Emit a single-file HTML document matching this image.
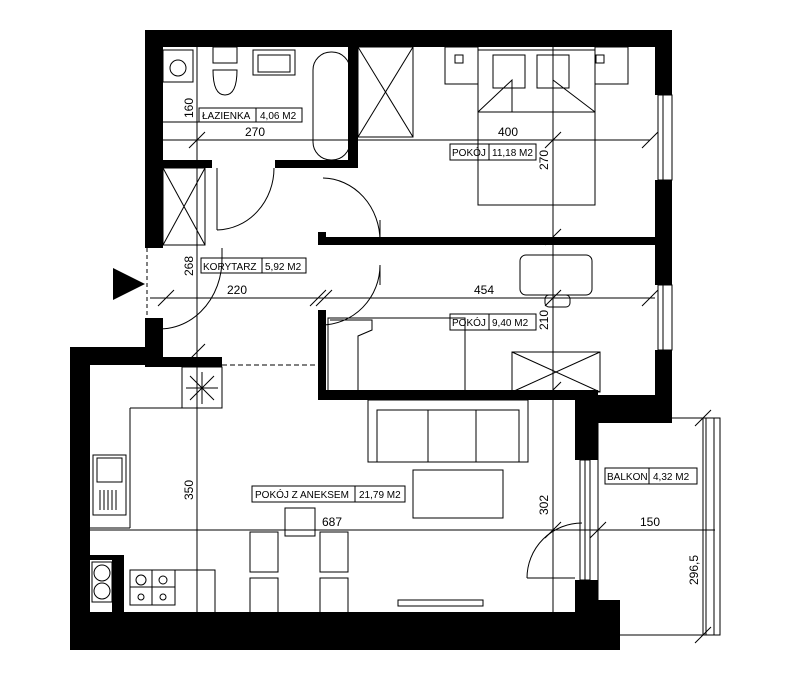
<!DOCTYPE html>
<html><head><meta charset="utf-8"><style>
html,body{margin:0;padding:0;background:#fff}
svg{display:block}
text{font-family:"Liberation Sans",sans-serif;fill:#000}
</style></head><body>
<svg width="805" height="687" viewBox="0 0 805 687" xmlns="http://www.w3.org/2000/svg">
<rect width="805" height="687" fill="#fff"/>
<g fill="#000">
<rect x="145" y="30" width="527" height="17"/>
<rect x="655" y="30" width="17" height="65"/>
<rect x="655" y="180" width="17" height="105"/>
<rect x="655" y="350" width="17" height="68"/>
<rect x="145" y="30" width="18" height="218"/>
<rect x="145" y="318" width="18" height="47"/>
<rect x="70" y="347" width="93" height="18"/>
<rect x="145" y="357" width="77" height="10"/>
<rect x="70" y="347" width="20" height="303"/>
<rect x="70" y="612" width="530" height="38"/>
<rect x="575" y="600" width="45" height="50"/>
<rect x="575" y="395" width="23" height="65"/>
<rect x="575" y="580" width="23" height="32"/>
<rect x="575" y="395" width="97" height="28"/>
<rect x="318" y="390" width="280" height="10"/>
<rect x="163" y="160" width="49" height="8"/>
<rect x="275" y="160" width="83" height="8"/>
<rect x="348" y="47" width="10" height="121"/>
<rect x="318" y="237" width="337" height="8"/>
<rect x="318" y="310" width="8" height="88"/>
<rect x="318" y="232" width="8" height="6"/>
<rect x="90" y="555" width="34" height="5"/>
<rect x="112" y="555" width="12" height="57"/>
</g>
<g fill="none" stroke="#000" stroke-width="1">
<rect x="658" y="95" width="14" height="85"/><line x1="663" y1="95" x2="663" y2="180"/>
<rect x="658" y="285" width="14" height="65"/><line x1="663" y1="285" x2="663" y2="350"/>
<rect x="580" y="460" width="10" height="120"/><line x1="585" y1="460" x2="585" y2="580"/>
<line x1="147" y1="248" x2="147" y2="318" stroke-dasharray="4,3"/>
<line x1="222" y1="365" x2="318" y2="365" stroke-dasharray="5,3"/>
<path d="M217,230 A58,62 0 0 0 274,168"/><line x1="217" y1="168" x2="217" y2="230"/>
<path d="M323,178 A58,63 0 0 1 380,241"/><line x1="380" y1="220" x2="380" y2="241"/>
<path d="M380,265 A59,60 0 0 1 321,325"/><line x1="380" y1="265" x2="380" y2="285"/>
<path d="M222,257 A62,70 0 0 1 150,328"/><line x1="222" y1="248" x2="222" y2="257"/>
<path d="M582,523 A55,55 0 0 0 527,578"/><line x1="527" y1="578" x2="575" y2="578"/>
<rect x="313" y="52" width="37" height="108" rx="18"/>
<rect x="253" y="50" width="42" height="25"/><rect x="258" y="55" width="32" height="17"/>
<rect x="213" y="47" width="24" height="16"/><path d="M213,70 Q213,95 225,95 Q237,95 237,70 Z"/>
<rect x="358" y="47" width="55" height="90"/><line x1="358" y1="47" x2="413" y2="137"/><line x1="413" y1="47" x2="358" y2="137"/>
<rect x="163" y="50" width="30" height="32"/><circle cx="178" cy="68" r="8"/>
<line x1="163" y1="122" x2="200" y2="122"/>
<rect x="163" y="168" width="42" height="77"/><line x1="163" y1="168" x2="205" y2="245"/><line x1="205" y1="168" x2="163" y2="245"/>
<rect x="478" y="50" width="117" height="155"/>
<rect x="493" y="55" width="32" height="33"/><rect x="537" y="55" width="32" height="33"/>
<path d="M478,112 L512,80 L512,112 M595,112 L553,80 L553,112 M478,112 L595,112"/>
<rect x="445" y="47" width="33" height="37"/><rect x="595" y="47" width="33" height="37"/>
<rect x="455" y="55" width="8" height="8"/><rect x="596" y="55" width="8" height="8"/>
<rect x="520" y="255" width="72" height="40" rx="6"/>
<rect x="545" y="295" width="25" height="12" rx="4"/>
<rect x="328" y="318" width="137" height="75"/>
<path d="M330,320 L372,320 L372,330 L358,336 L358,393"/>
<rect x="512" y="352" width="88" height="40"/><line x1="512" y1="352" x2="600" y2="392"/><line x1="600" y1="352" x2="512" y2="392"/>
<rect x="368" y="400" width="160" height="62"/><rect x="377" y="410" width="142" height="52"/>
<line x1="428" y1="410" x2="428" y2="462"/><line x1="476" y1="410" x2="476" y2="462"/>
<rect x="413" y="470" width="90" height="48"/>
<rect x="285" y="508" width="30" height="28"/>
<rect x="250" y="532" width="28" height="40"/><rect x="320" y="532" width="28" height="40"/>
<rect x="250" y="578" width="28" height="40"/><rect x="320" y="578" width="28" height="40"/>
<rect x="398" y="600" width="85" height="6"/>
<rect x="182" y="367" width="40" height="41"/>
<path d="M202,372 V404 M186,388 H218 M190,376 L214,400 M214,376 L190,400"/>
<path d="M130,408 H222 M130,408 V528 M90,528 H130"/>
<rect x="93" y="455" width="33" height="60"/><rect x="97" y="458" width="25" height="24"/>
<path d="M100,490 V510 M104,490 V510 M108,490 V510 M112,490 V510 M116,490 V510"/>
<rect x="130" y="570" width="45" height="35"/><line x1="152" y1="570" x2="152" y2="605"/><line x1="130" y1="587" x2="175" y2="587"/>
<circle cx="141" cy="580" r="5"/><circle cx="163" cy="580" r="4"/><circle cx="141" cy="597" r="3"/><circle cx="163" cy="597" r="3"/>
<path d="M175,570 H215 V612"/>
<rect x="92" y="562" width="20" height="40"/>
<circle cx="102" cy="573" r="8"/><circle cx="102" cy="591" r="8"/>
<path d="M598,418 H720 V635 H620"/>
<line x1="598" y1="418" x2="598" y2="600"/>
<rect x="706" y="418" width="8" height="217"/>
<line x1="163" y1="140" x2="650" y2="140"/>
<line x1="150" y1="298" x2="655" y2="298"/>
<line x1="90" y1="530" x2="715" y2="530"/>
<line x1="197" y1="47" x2="197" y2="615"/>
<line x1="553" y1="47" x2="553" y2="615"/>
<line x1="703" y1="418" x2="703" y2="635"/>
<path d="M545,148 L561,132 M545,245 L561,229 M545,306 L561,290 M545,398 L561,382 M189,148 L205,132 M642,148 L658,132 M642,306 L658,290 M158,306 L174,290 M310,306 L326,290 M316,306 L332,290 M545,538 L561,522 M590,538 L606,522 M695,426 L711,410 M695,643 L711,627 M189,360 L205,344"/>
<rect x="199" y="108" width="103" height="14"/><line x1="256" y1="108" x2="256" y2="122"/>
<rect x="450" y="144" width="86" height="16"/><line x1="489" y1="144" x2="489" y2="160"/>
<rect x="201" y="258" width="105" height="15"/><line x1="262" y1="258" x2="262" y2="273"/>
<rect x="450" y="314" width="86" height="16"/><line x1="489" y1="314" x2="489" y2="330"/>
<rect x="252" y="486" width="153" height="16"/><line x1="355" y1="486" x2="355" y2="502"/>
<rect x="605" y="468" width="92" height="16"/><line x1="649" y1="468" x2="649" y2="484"/>
</g>
<polygon points="113,268 145,284 113,300" fill="#000"/>
<g font-size="10">
<text x="202" y="119">ŁAZIENKA</text><text x="260" y="119">4,06 M2</text>
<text x="452" y="156">POKÓJ</text><text x="492" y="156">11,18 M2</text>
<text x="203" y="270">KORYTARZ</text><text x="265" y="270">5,92 M2</text>
<text x="452" y="326">POKÓJ</text><text x="492" y="326">9,40 M2</text>
<text x="255" y="498">POKÓJ Z ANEKSEM</text><text x="359" y="498">21,79 M2</text>
<text x="607" y="480">BALKON</text><text x="653" y="480">4,32 M2</text>
</g>
<g font-size="12">
<text x="245" y="136">270</text><text x="498" y="136">400</text>
<text x="227" y="294">220</text><text x="474" y="294">454</text>
<text x="322" y="526">687</text><text x="640" y="526">150</text>
<text transform="translate(193,118) rotate(-90)">160</text>
<text transform="translate(193,276) rotate(-90)">268</text>
<text transform="translate(193,500) rotate(-90)">350</text>
<text transform="translate(548,170) rotate(-90)">270</text>
<text transform="translate(548,330) rotate(-90)">210</text>
<text transform="translate(548,515) rotate(-90)">302</text>
<text transform="translate(698,585) rotate(-90)">296,5</text>
</g>
</svg>
</body></html>
